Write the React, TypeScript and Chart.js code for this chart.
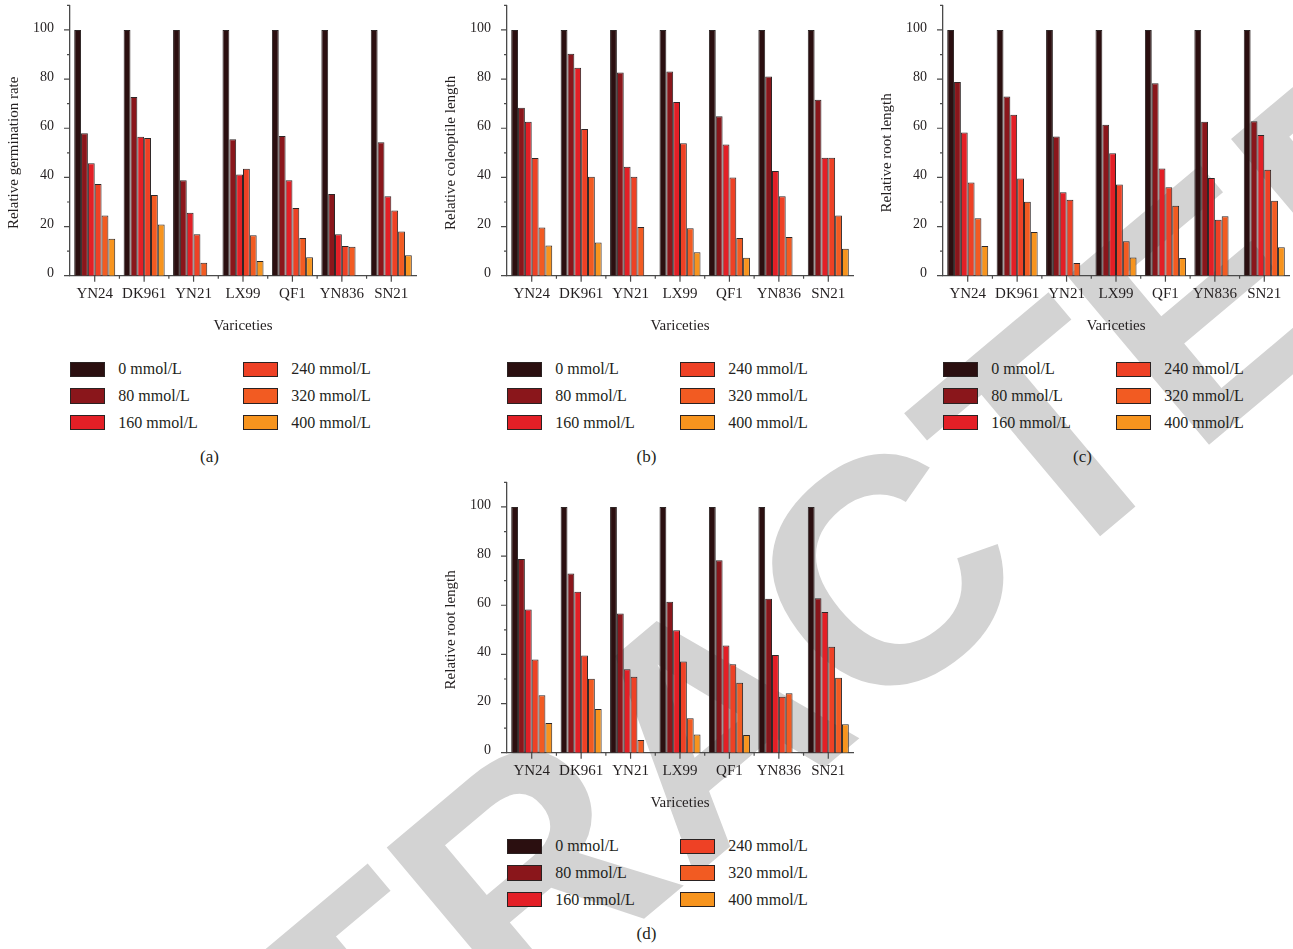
import React, { useEffect, useRef } from "react";
import { Chart, registerables } from "chart.js";

Chart.register(...registerables);

// ---------------- data ----------------
const varieties = ["YN24", "DK961", "YN21", "LX99", "QF1", "YN836", "SN21"];
const concentrations = ["0 mmol/L", "80 mmol/L", "160 mmol/L", "240 mmol/L", "320 mmol/L", "400 mmol/L"];
const seriesColors = ["#2b0f10", "#8a161b", "#e31f26", "#ee4125", "#f25b22", "#f7941e"];
const yTickValues = [0, 20, 40, 60, 80, 100];
const xAxisTitle = "Variceties";
const watermarkText = "RETRACTED";

// (a) relative germination rate
const germ0 = [100, 100, 100, 100, 100, 100, 100];
const germ80 = [58, 72.7, 38.8, 55.5, 56.9, 33.2, 54.3];
const germ160 = [45.8, 56.5, 25.6, 41.2, 38.8, 16.9, 32.3];
const germ240 = [37.3, 56, 16.9, 43.5, 27.6, 12.1, 26.5];
const germ320 = [24.5, 32.8, 5.3, 16.5, 15.3, 11.8, 18];
const germ400 = [15, 20.8, 0, 6, 7.5, 0, 8.3];

// (b) relative coleoptile length
const coleo0 = [100, 100, 100, 100, 100, 100, 100];
const coleo80 = [68.3, 90.3, 82.7, 83.1, 64.9, 81.1, 71.6];
const coleo160 = [62.6, 84.6, 44.3, 70.7, 53.4, 42.6, 48];
const coleo240 = [47.9, 59.7, 40.3, 53.9, 40, 32.3, 48];
const coleo320 = [19.6, 40.3, 19.8, 19.3, 15.3, 15.7, 24.5];
const coleo400 = [12.3, 13.5, 0, 9.5, 7.3, 0, 11];

// (c) and (d) relative root length
const root0 = [100, 100, 100, 100, 100, 100, 100];
const root80 = [78.8, 72.9, 56.6, 61.4, 78.3, 62.6, 62.9];
const root160 = [58.3, 65.5, 34, 49.8, 43.6, 39.8, 57.3];
const root240 = [37.9, 39.6, 30.9, 37.1, 36, 22.8, 43.1];
const root320 = [23.4, 30.1, 5.2, 14, 28.5, 24.2, 30.5];
const root400 = [12.1, 17.8, 0, 7.4, 7.2, 0, 11.6];

// ---------------- style ----------------
const SERIF = '"Liberation Serif", "DejaVu Serif", serif';
const TEXT = "#231f20";
const AXIS = "#4a4a4a";
const BAR_BORDER = "#2e2626";
const CANVAS_W = 430;
const CANVAS_H = 345;

const decorPlugin = {
  id: "decor",
  afterDraw(chart: any, _args: any, opts: any) {
    const ctx = chart.ctx;
    const xs = chart.scales.x;
    const ys = chart.scales.y;
    const area = chart.chartArea;
    ctx.save();
    ctx.strokeStyle = AXIS;
    ctx.lineWidth = 1.2;
    ctx.beginPath();
    for (let v = 0; v <= 110; v += 10) {
      const py = ys.getPixelForValue(v);
      const len = v % 20 === 0 && v <= 100 ? 6 : 3;
      ctx.moveTo(area.left - len, py);
      ctx.lineTo(area.left, py);
    }
    for (let i = 0; i < varieties.length; i++) {
      const px = xs.getPixelForValue(i);
      ctx.moveTo(px, area.bottom);
      ctx.lineTo(px, area.bottom + 6);
      if (i < varieties.length - 1) {
        const pb = (px + xs.getPixelForValue(i + 1)) / 2;
        ctx.moveTo(pb, area.bottom);
        ctx.lineTo(pb, area.bottom + 3);
      }
    }
    ctx.moveTo(area.left - 2, area.bottom);
    ctx.lineTo(area.left, area.bottom);
    ctx.stroke();
    ctx.fillStyle = TEXT;
    ctx.font = "15px " + SERIF;
    ctx.textAlign = "center";
    ctx.textBaseline = "middle";
    ctx.fillText(xAxisTitle, (area.left + area.right) / 2, 326);
    ctx.translate(14, (ys.getPixelForValue(0) + ys.getPixelForValue(100)) / 2);
    ctx.rotate(-Math.PI / 2);
    ctx.fillText(opts.yTitle, 0, 0);
    ctx.restore();
  },
};

type PanelProps = {
  left: number;
  top: number;
  yTitle: string;
  series: number[][];
  caption: string;
};

function BarPanel({ left, top, yTitle, series, caption }: PanelProps) {
  const ref = useRef<HTMLCanvasElement>(null);
  useEffect(() => {
    if (!ref.current) return;
    const chart = new Chart(ref.current, {
      type: "bar",
      data: {
        labels: varieties,
        datasets: series.map((vals, i) => ({
          label: concentrations[i],
          data: vals,
          backgroundColor: seriesColors[i],
          borderColor: BAR_BORDER,
          borderWidth: 1,
          categoryPercentage: 0.83,
          barPercentage: 1,
        })),
      },
      options: {
        animation: false,
        responsive: false,
        maintainAspectRatio: false,
        layout: { padding: { left: 0, right: 14, top: 5.4, bottom: CANVAS_H - 275.7 - 30 } },
        plugins: {
          legend: { display: false },
          tooltip: { enabled: false },
          decor: { yTitle },
        } as any,
        scales: {
          x: {
            type: "category",
            offset: true,
            grid: { display: false, drawTicks: false },
            border: { display: true, color: AXIS, width: 1.3 },
            ticks: {
              autoSkip: false,
              maxRotation: 0,
              minRotation: 0,
              padding: 9,
              color: TEXT,
              font: { family: SERIF, size: 15 },
            },
            afterFit: (s: any) => {
              s.height = 30;
              s.paddingLeft = 0;
              s.paddingRight = 0;
            },
          },
          y: {
            type: "linear",
            min: 0,
            max: 110,
            grid: { display: false, drawTicks: false },
            border: { display: true, color: AXIS, width: 1.3 },
            afterBuildTicks: (s: any) => {
              s.ticks = yTickValues.map((v) => ({ value: v }));
            },
            ticks: {
              padding: 16,
              labelOffset: -2,
              color: TEXT,
              font: { family: SERIF, size: 14 },
            },
            afterFit: (s: any) => {
              s.width = 70;
              s.paddingTop = 0;
              s.paddingBottom = 0;
            },
          },
        },
      },
      plugins: [decorPlugin as any],
    });
    return () => chart.destroy();
  }, []);

  return (
    <div style={{ position: "absolute", left, top, width: CANVAS_W, height: 480, zIndex: 1 }}>
      <canvas
        ref={ref}
        width={CANVAS_W}
        height={CANVAS_H}
        style={{ position: "absolute", left: 0, top: 0, width: CANVAS_W, height: CANVAS_H }}
      />
      {concentrations.map((c, i) => {
        const col = i < 3 ? 0 : 1;
        const row = i % 3;
        const sy = 361.7 + row * 26.6;
        return (
          <React.Fragment key={c}>
            <div
              style={{
                position: "absolute",
                left: 69.5 + col * 173,
                top: sy,
                width: 35.5,
                height: 15.5,
                boxSizing: "border-box",
                background: seriesColors[i],
                border: "1px solid #2a2222",
              }}
            />
            <div
              style={{
                position: "absolute",
                left: 118.3 + col * 173,
                top: sy + 7.75 - 10,
                height: 20,
                lineHeight: "20px",
                fontFamily: SERIF,
                fontSize: 16,
                color: TEXT,
                whiteSpace: "nowrap",
              }}
            >
              {c}
            </div>
          </React.Fragment>
        );
      })}
      <div
        style={{
          position: "absolute",
          left: 209.5 - 30,
          width: 60,
          top: 457 - 11,
          height: 22,
          lineHeight: "22px",
          textAlign: "center",
          fontFamily: SERIF,
          fontSize: 17,
          color: TEXT,
        }}
      >
        {caption}
      </div>
    </div>
  );
}

export default function App() {
  return (
    <div
      style={{
        position: "absolute",
        left: 0,
        top: 0,
        width: 1293,
        height: 949,
        overflow: "hidden",
        background: "#ffffff",
      }}
    >
      <div
        style={{
          position: "absolute",
          left: 706,
          top: 722,
          transform: "translate(-50%, -50%) rotate(-40deg)",
          fontFamily: '"Liberation Sans", Arial, sans-serif',
          fontWeight: 700,
          fontSize: 320,
          lineHeight: 1,
          color: "#d3d3d3",
          whiteSpace: "nowrap",
          zIndex: 0,
        }}
      >
        {watermarkText}
      </div>
      <BarPanel
        left={0}
        top={0}
        yTitle="Relative germination rate"
        series={[germ0, germ80, germ160, germ240, germ320, germ400]}
        caption="(a)"
      />
      <BarPanel
        left={437}
        top={0}
        yTitle="Relative coleoptile length"
        series={[coleo0, coleo80, coleo160, coleo240, coleo320, coleo400]}
        caption="(b)"
      />
      <BarPanel
        left={873}
        top={0}
        yTitle="Relative root length"
        series={[root0, root80, root160, root240, root320, root400]}
        caption="(c)"
      />
      <BarPanel
        left={437}
        top={477}
        yTitle="Relative root length"
        series={[root0, root80, root160, root240, root320, root400]}
        caption="(d)"
      />
    </div>
  );
}
